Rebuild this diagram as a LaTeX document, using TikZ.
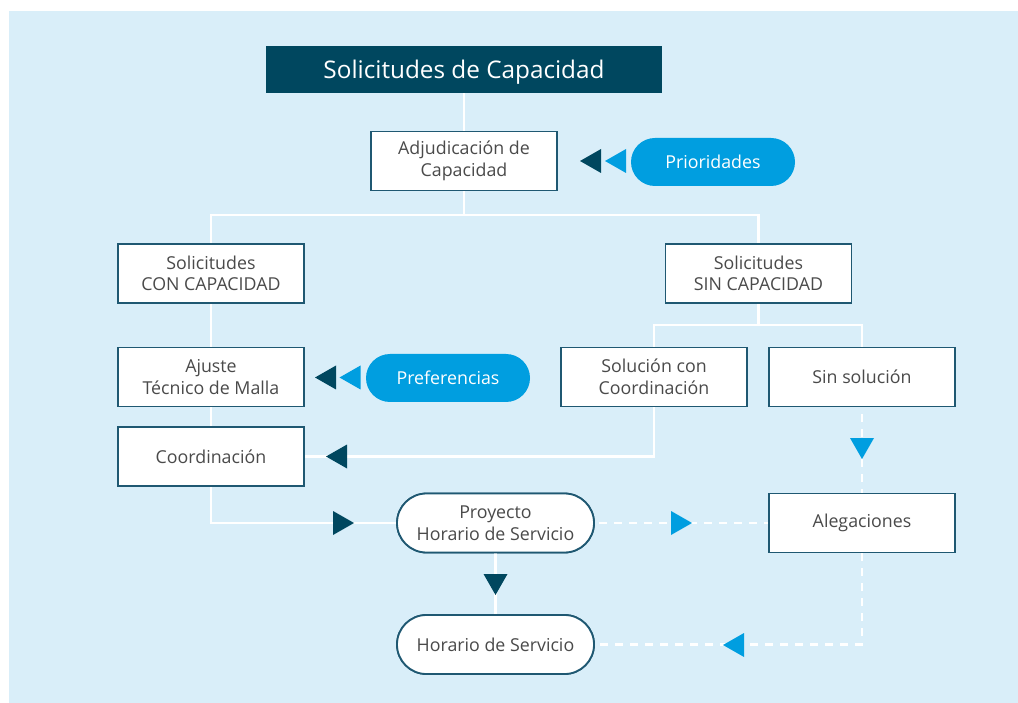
\documentclass[tikz,border=0pt]{standalone}
\usepackage{fontspec}
\setmainfont{Open Sans}
\usetikzlibrary{shapes.misc}
\definecolor{bgc}{HTML}{D9EEF9}
\definecolor{dteal}{HTML}{00475F}
\definecolor{lblue}{HTML}{009EE0}
\definecolor{bord}{HTML}{1F5872}
\definecolor{txt}{HTML}{4A4A4A}
\tikzset{
  base/.style={font=\fontsize{17.8}{21.5}\selectfont, text=txt, align=center, inner sep=0pt},
  box/.style={base, draw=bord, line width=1.8pt, fill=white, minimum width=186pt, minimum height=59pt},
  pill/.style={base, rounded rectangle, draw=bord, line width=1.8pt, fill=white, minimum width=197pt, minimum height=59pt},
  bpill/.style={base, rounded rectangle, fill=lblue, text=white, minimum width=164pt, minimum height=48pt},
  titlebox/.style={base, fill=dteal, text=white, font=\fontsize{24.3}{28}\selectfont, minimum width=396pt, minimum height=47pt},
  conn/.style={draw=white, line width=2.2pt},
  dconn/.style={draw=white, line width=2.6pt, dash pattern=on 8pt off 7pt},
  tri/.pic={\path[pic actions] (0,0) -- (-21,-12) -- (-21,12) -- cycle;}
}
\begin{document}
\begin{tikzpicture}[x=1pt,y=-1pt]
\useasboundingbox (0,0) rectangle (1018,703);
\fill[bgc] (9,11) rectangle (1018,703);

\node[titlebox] (title) at (464,69.5) {};
\node[base, text=white, font=\fontsize{24.3}{28}\selectfont] (titletext) at (464,72) {Solicitudes de Capacidad};
\node[box] (adj) at (464,161) {Adjudicación de\\Capacidad};
\node[bpill] (prio) at (713,162) {Prioridades};
\node[box] (con) at (211,273.5) {Solicitudes\\CON CAPACIDAD};
\node[box] (sin) at (758.5,273.5) {Solicitudes\\SIN CAPACIDAD};
\node[box] (aju) at (211,377) {Ajuste\\Técnico de Malla};
\node[bpill] (pref) at (448,378) {Preferencias};
\node[box] (coo) at (211,456.5) {Coordinación};
\node[box] (sol) at (654,377) {Solución con\\Coordinación};
\node[box] (sinsol) at (862,377) {Sin solución};
\node[pill] (proy) at (495.5,523) {Proyecto\\Horario de Servicio};
\node[box] (ale) at (862,523) {Alegaciones};
\node[pill] (hor) at (495.5,644.5) {Horario de Servicio};

\coordinate (j1) at (464,215);
\coordinate (j2) at (758.5,325);

% solid connectors
\draw[conn] (title.south) -- (adj.north);
\draw[conn] (adj.south) -- (j1);
\draw[conn] (con.north) |- (j1) -| (sin.north);
\draw[conn] (con.south) -- (aju.north);
\draw[conn] (aju.south) -- (coo.north);
\draw[conn] (coo.south) |- (proy.west);
\draw[conn] (sin.south) -- (j2);
\draw[conn] (sol.north) |- (j2) -| (sinsol.north);
\draw[conn] (sol.south) |- (coo.east);
\draw[conn] (proy.south) -- (hor.north);

% dashed connectors
\draw[dconn] ([xshift=4pt]proy.east) -- (ale.west);
\draw[dconn] ([yshift=8pt]sinsol.south) -- (ale.north);
\draw[dconn] (ale.south) |- ([xshift=4pt]hor.east);

% redraw nodes above lines
\node[box] at (adj) {Adjudicación de\\Capacidad};
\node[box] at (con) {Solicitudes\\CON CAPACIDAD};
\node[box] at (sin) {Solicitudes\\SIN CAPACIDAD};
\node[box] at (aju) {Ajuste\\Técnico de Malla};
\node[box] at (coo) {Coordinación};
\node[box] at (sol) {Solución con\\Coordinación};
\node[box] at (sinsol) {Sin solución};
\node[pill] at (proy) {Proyecto\\Horario de Servicio};
\node[box] at (ale) {Alegaciones};
\node[pill] at (hor) {Horario de Servicio};

% triangles
\pic[fill=dteal, rotate=180] at (580,161) {tri};
\pic[fill=lblue, rotate=180] at (605,161) {tri};
\pic[fill=dteal, rotate=180] at (315,377.5) {tri};
\pic[fill=lblue, rotate=180] at (339.5,377.5) {tri};
\pic[fill=dteal, rotate=180] at (326,456.5) {tri};
\pic[fill=dteal] at (354,523) {tri};
\pic[fill=dteal, rotate=-90] at (495.5,595) {tri};
\pic[fill=lblue] at (692,523) {tri};
\pic[fill=lblue, rotate=-90] at (862,459) {tri};
\pic[fill=lblue, rotate=180] at (723,645) {tri};
\end{tikzpicture}
\end{document}
